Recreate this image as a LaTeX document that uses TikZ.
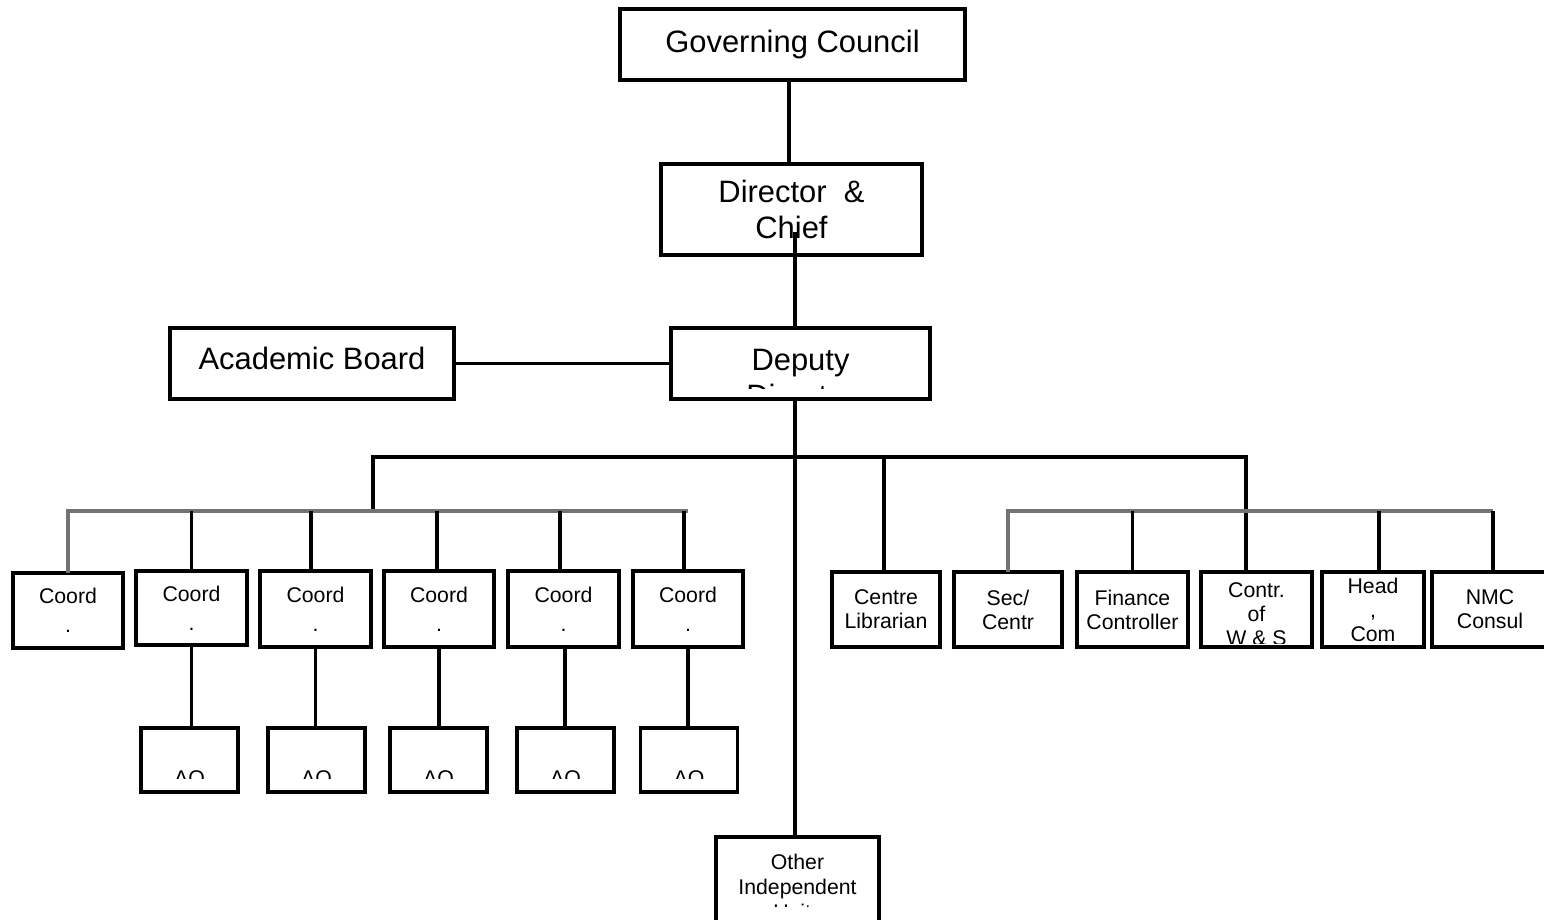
\documentclass[tikz,border=0pt]{standalone}
\usepackage{fontspec}
\setmainfont{Liberation Sans}
\usetikzlibrary{positioning, calc}
\tikzset{
    % Box styles - plain rectangles, black border
    bigbox/.style={
        rectangle,
        draw=black,
        line width=1.9pt,
        inner sep=0pt,
        outer sep=0pt,
        align=center,
        minimum height=1.42cm,
        font=\fontsize{17.6}{20.4}\selectfont
    },
    smallbox/.style={
        rectangle,
        draw=black,
        line width=1.9pt,
        inner sep=0pt,
        outer sep=0pt,
        align=center,
        minimum height=1.5cm,
        font=\fontsize{12.1}{13.6}\selectfont
    },
    aobox/.style={
        smallbox,
        minimum width=1.94cm,
        minimum height=1.28cm
    },
    % Text that is cut off by its box (anchored at the last baseline)
    cuttext/.style={
        inner sep=0pt,
        align=center,
        anchor=base
    },
    % Connector styles
    link/.style={
        line width=1.9pt,
        black
    },
    greylink/.style={
        line width=1.9pt,
        black!55
    }
}
\begin{document}
\begin{tikzpicture}[x=0.02cm, y=-0.02cm]
    \useasboundingbox (0,0) rectangle (1544,919);

    % Top of the chart
    \node[bigbox, minimum width=6.9cm] (gc) at (792.5,44.5) {Governing Council};
    \node[bigbox, minimum width=5.22cm, minimum height=1.82cm] (dir) at (791.5,209.5) {Director\ \ \&\\Chief};
    \node[bigbox, minimum width=5.18cm] (dep) at (800.5,363.5) {};
    \node[bigbox, minimum width=5.68cm] (acad) at (312,363.5) {\raisebox{0.2cm}{Academic Board}};

    % Coordinators
    \node[smallbox, minimum width=2.2cm] (c1) at (68,610.5) {Coord\\[0.1cm].};
    \node[smallbox, minimum width=2.22cm, minimum height=1.48cm] (c2) at (191.5,608) {Coord\\[0.1cm].};
    \node[smallbox, minimum width=2.22cm, minimum height=1.52cm] (c3) at (315.5,609) {Coord\\[0.1cm].};
    \node[smallbox, minimum width=2.2cm, minimum height=1.52cm] (c4) at (439,609) {Coord\\[0.1cm].};
    \node[smallbox, minimum width=2.22cm, minimum height=1.52cm] (c5) at (563.5,609) {Coord\\[0.1cm].};
    \node[smallbox, minimum width=2.2cm, minimum height=1.52cm] (c6) at (688,609) {Coord\\[0.1cm].};

    % AO boxes
    \node[aobox] (a1) at (189.5,760) {};
    \node[aobox] (a2) at (316.5,760) {};
    \node[aobox] (a3) at (438.5,760) {};
    \node[aobox] (a4) at (565.5,760) {};
    \node[aobox] (a5) at (689,760) {};

    % Right hand units
    \node[smallbox, minimum width=2.16cm] (lib) at (886,609.5) {Centre\\Librarian};
    \node[smallbox, minimum width=2.16cm] (sec) at (1008,609.5) {Sec/\\Centr};
    \node[smallbox, minimum width=2.22cm] (fin) at (1132.5,609.5) {Finance\\Controller};
    \node[smallbox, minimum width=2.22cm] (cw) at (1256.5,609.5) {};
    \node[smallbox, minimum width=2.04cm] (head) at (1373,609.5) {Head\\,\\Com};
    \node[smallbox, minimum width=2.32cm] (nmc) at (1490,609.5) {NMC\\Consul};
    \node[smallbox, minimum width=3.26cm, minimum height=2.26cm] (oth) at (797.5,893.5) {};

    % Cut off labels
    \begin{scope}
        \clip (dep.north west) rectangle ($(dep.south east)+(0,-10)$);
        \node[cuttext, font=\fontsize{17.6}{20.4}\selectfont] (dep-t) at ($(dep.north)+(0,78)$) {Deputy\\Director};
    \end{scope}
    \begin{scope}
        \clip (cw.north west) rectangle ($(cw.south east)+(0,-4)$);
        \node[cuttext, font=\fontsize{12.1}{13.6}\selectfont] (cw-t) at ($(cw.north)+(0,73)$) {Contr.\\of\\W \& S};
    \end{scope}
    \begin{scope}
        \clip (oth.north west) rectangle ($(oth.north east)+(0,69)$);
        \node[cuttext, font=\fontsize{12.1}{14.2}\selectfont] (oth-t) at ($(oth.north)+(0,82)$) {Other\\Independent\\Units};
    \end{scope}
    \begin{scope}
        \clip (a1.north west) rectangle ($(a5.south east)+(0,-14)$);
        \node[cuttext, font=\fontsize{12.1}{13.6}\selectfont] (a1-t) at ($(a1.north)+(0,57)$) {AO};
        \node[cuttext, font=\fontsize{12.1}{13.6}\selectfont] (a2-t) at ($(a2.north)+(0,57)$) {AO};
        \node[cuttext, font=\fontsize{12.1}{13.6}\selectfont] (a3-t) at ($(a3.north)+(0,57)$) {AO};
        \node[cuttext, font=\fontsize{12.1}{13.6}\selectfont] (a4-t) at ($(a4.north)+(0,57)$) {AO};
        \node[cuttext, font=\fontsize{12.1}{13.6}\selectfont] (a5-t) at ($(a5.north)+(0,57)$) {AO};
    \end{scope}

    % Spine
    \coordinate (spine) at (795,232);
    \draw[link] ([xshift=-0.07cm]gc.south) -- ([xshift=-0.07cm]gc.south |- dir.north);
    \draw[link] (spine) -- (spine |- dep.north);
    \draw[link] (spine |- dep.south) -- (spine |- oth.north);
    \draw[link] (acad) -- (dep);

    % Main bar
    \coordinate (lbar) at (373,511);
    \coordinate (rbar) at (1246,457);
    \draw[link] (lbar) |- (rbar) -- (rbar |- cw.north);
    \draw[link] ([xshift=-0.04cm]lib.north |- rbar) -- ([xshift=-0.04cm]lib.north);

    % Coordinator bar
    \draw[greylink] (c1.north) |- (c6.north |- lbar);
    \draw[link] ([xshift=-0.08cm]c6.north |- lbar) -- ([xshift=-0.08cm]c6.north);
    \draw[link] (c2.north |- lbar) -- (c2.north);
    \draw[link] ([xshift=-0.09cm]c3.north |- lbar) -- ([xshift=-0.09cm]c3.north);
    \draw[link] ([xshift=-0.04cm]c4.north |- lbar) -- ([xshift=-0.04cm]c4.north);
    \draw[link] ([xshift=-0.07cm]c5.north |- lbar) -- ([xshift=-0.07cm]c5.north);

    % Coordinator to AO
    \draw[link] (c2.south) -- (c2.south |- a1.north);
    \draw[link] (c3.south) -- (c3.south |- a2.north);
    \draw[link] (c4.south) -- (c4.south |- a3.north);
    \draw[link] ([xshift=0.03cm]c5.south) -- ([xshift=0.03cm]c5.south |- a4.north);
    \draw[link] (c6.south) -- (c6.south |- a5.north);

    % Right bar
    \draw[greylink] (sec.north) |- ([xshift=0.06cm]nmc.north |- lbar);
    \draw[link] ([xshift=0.06cm]nmc.north |- lbar) -- ([xshift=0.06cm]nmc.north);
    \draw[link] (fin.north |- lbar) -- (fin.north);
    \draw[link] ([xshift=0.12cm]head.north |- lbar) -- ([xshift=0.12cm]head.north);
\end{tikzpicture}
\end{document}
